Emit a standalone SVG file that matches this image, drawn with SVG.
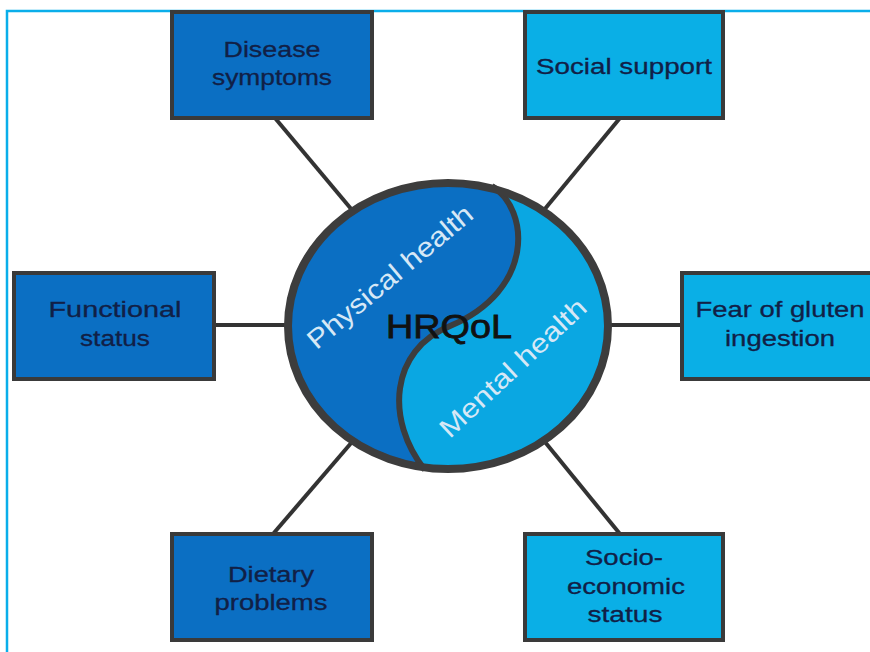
<svg xmlns="http://www.w3.org/2000/svg" width="870" height="652" viewBox="0 0 870 652">
<defs>
<style>
.frame{fill:none;stroke:#0AAEEA;stroke-width:2.5}
.dark{fill:#0B6FC3;stroke:#3a3a3a;stroke-width:4}
.light{fill:#0AAFE6;stroke:#3a3a3a;stroke-width:4}
.lbl{font-family:"Liberation Sans",Arial,sans-serif;font-size:22px;fill:#112046;stroke:#112046;stroke-width:0.3;text-anchor:middle}
.conn{stroke:#333;stroke-width:4;fill:none}
.hl{font-family:"Liberation Sans",Arial,sans-serif;font-size:27px;fill:#d6e8f6;text-anchor:middle}
</style>
<clipPath id="ec"><ellipse cx="448" cy="326" rx="160" ry="143"/></clipPath>
</defs>
<rect width="870" height="652" fill="#fff"/>
<path class="frame" d="M7 652 V11 H870"/>
<g id="connectors">
<line class="conn" x1="275" y1="118" x2="352" y2="210"/>
<line class="conn" x1="620" y1="118" x2="544" y2="210"/>
<line class="conn" x1="214" y1="325" x2="290" y2="325"/>
<line class="conn" x1="606" y1="325" x2="682" y2="325"/>
<line class="conn" x1="273" y1="534" x2="352" y2="442"/>
<line class="conn" x1="620" y1="534" x2="545" y2="442"/>
</g>
<g id="hrqol">
<ellipse cx="448" cy="326" rx="160" ry="143" fill="#0AA7E2"/>
<path clip-path="url(#ec)" fill="#0B6FC3" d="M492 186 C530 210 535 290 450 326 C390 350 385 420 425 470 L250 500 L250 150 Z"/>
<path d="M492 186 C530 210 535 290 450 326 C390 350 385 420 425 470" fill="none" stroke="#3d3d3d" stroke-width="6"/>
<ellipse cx="448" cy="326" rx="160" ry="143" fill="none" stroke="#3d3d3d" stroke-width="8"/>
<text class="hl" transform="translate(390 277) rotate(-40)" y="9" textLength="207" lengthAdjust="spacingAndGlyphs">Physical health</text>
<text class="hl" transform="translate(513 368) rotate(-43)" y="9" textLength="190" lengthAdjust="spacingAndGlyphs">Mental health</text>
<text x="449" y="338" font-family="Liberation Sans,Arial,sans-serif" font-size="34" fill="#111" stroke="#111" stroke-width="0.8" text-anchor="middle" textLength="126" lengthAdjust="spacingAndGlyphs">HRQoL</text>
</g>
<g id="disease">
<rect class="dark" x="172" y="12" width="200" height="106"/>
<text class="lbl" x="272" y="57" textLength="97" lengthAdjust="spacingAndGlyphs">Disease</text>
<text class="lbl" x="272" y="85" textLength="120" lengthAdjust="spacingAndGlyphs">symptoms</text>
</g>
<g id="social">
<rect class="light" x="525" y="12" width="198" height="106"/>
<text class="lbl" x="624" y="74" textLength="176" lengthAdjust="spacingAndGlyphs">Social support</text>
</g>
<g id="functional">
<rect class="dark" x="14" y="273" width="200" height="106"/>
<text class="lbl" x="115" y="317" textLength="133" lengthAdjust="spacingAndGlyphs">Functional</text>
<text class="lbl" x="115" y="346" textLength="70" lengthAdjust="spacingAndGlyphs">status</text>
</g>
<g id="fear">
<rect class="light" x="682" y="273" width="200" height="106"/>
<text class="lbl" x="780" y="317" textLength="169" lengthAdjust="spacingAndGlyphs">Fear of gluten</text>
<text class="lbl" x="780" y="346" textLength="110" lengthAdjust="spacingAndGlyphs">ingestion</text>
</g>
<g id="dietary">
<rect class="dark" x="172" y="534" width="200" height="106"/>
<text class="lbl" x="271" y="582" textLength="86" lengthAdjust="spacingAndGlyphs">Dietary</text>
<text class="lbl" x="271" y="610" textLength="113" lengthAdjust="spacingAndGlyphs">problems</text>
</g>
<g id="socio">
<rect class="light" x="525" y="534" width="198" height="106"/>
<text class="lbl" x="624" y="565" textLength="78" lengthAdjust="spacingAndGlyphs">Socio-</text>
<text class="lbl" x="626" y="594" textLength="118" lengthAdjust="spacingAndGlyphs">economic</text>
<text class="lbl" x="625" y="622" textLength="75" lengthAdjust="spacingAndGlyphs">status</text>
</g>
</svg>
